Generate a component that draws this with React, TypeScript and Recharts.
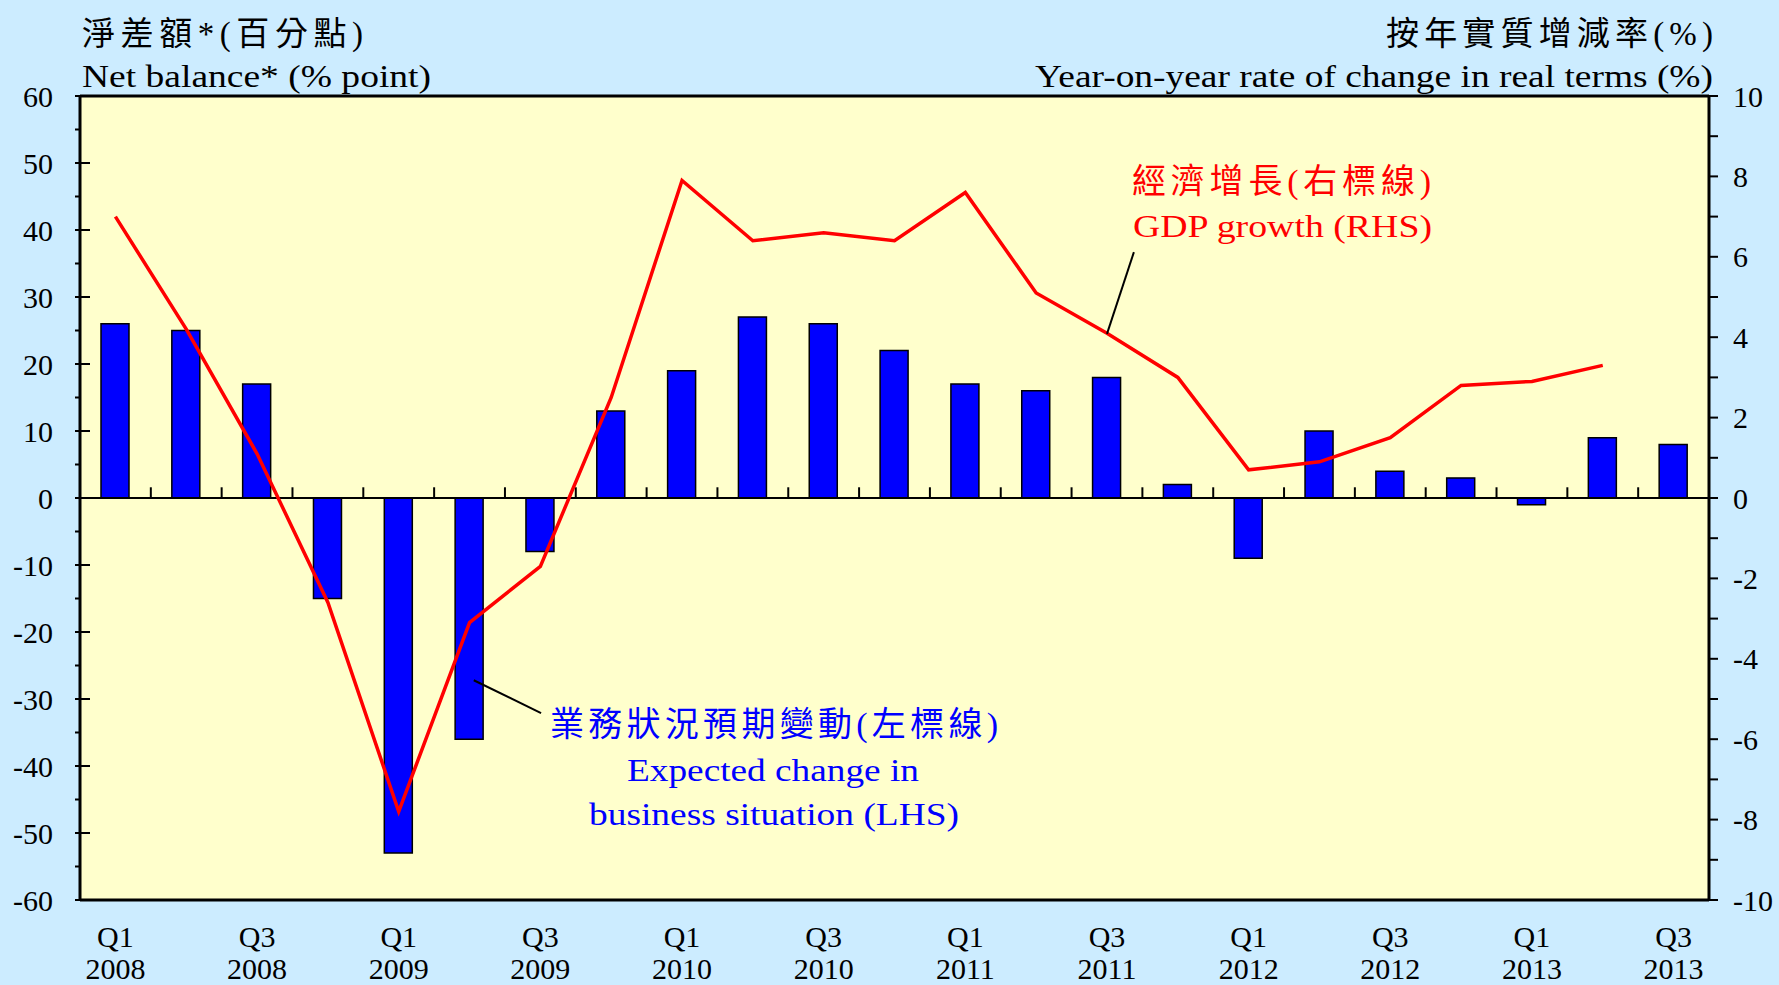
import React from 'react';
import {
  ComposedChart,
  Bar,
  Line,
  XAxis,
  YAxis,
  CartesianGrid,
  ReferenceLine,
} from 'recharts';

const periods = [
  'Q1 2008', 'Q2 2008', 'Q3 2008', 'Q4 2008',
  'Q1 2009', 'Q2 2009', 'Q3 2009', 'Q4 2009',
  'Q1 2010', 'Q2 2010', 'Q3 2010', 'Q4 2010',
  'Q1 2011', 'Q2 2011', 'Q3 2011', 'Q4 2011',
  'Q1 2012', 'Q2 2012', 'Q3 2012', 'Q4 2012',
  'Q1 2013', 'Q2 2013', 'Q3 2013',
];

// expected change in business situation, net balance (% point), LHS
const businessChange = [
  26, 25, 17, -15, -53, -36, -8, 13, 19, 27, 26, 22, 17, 16, 18, 2, -9, 10, 4, 3, -1, 9, 8,
];

// GDP growth, yoy % in real terms, RHS
const gdpGrowth = [
  7.0, 4.2, 1.1, -2.6, -7.8, -3.1, -1.7, 2.5, 7.9, 6.4, 6.6, 6.4, 7.6, 5.1, 4.1, 3.0, 0.7, 0.9, 1.5,
  2.8, 2.9, 3.3, null,
];

const leftTicks = [
  -60, -55, -50, -45, -40, -35, -30, -25, -20, -15, -10, -5, 0, 5, 10, 15, 20, 25, 30, 35, 40, 45,
  50, 55, 60,
];
const rightTicks = [-10, -9, -8, -7, -6, -5, -4, -3, -2, -1, 0, 1, 2, 3, 4, 5, 6, 7, 8, 9, 10];

// leader lines for the two annotations (numeric x position, LHS units)
const gdpLeader = [
  { x: 14.88, y: 36.7 },
  { x: 14.5, y: 24.5 },
];
const businessLeader = [
  { x: 5.56, y: -27.2 },
  { x: 6.51, y: -32.1 },
];

const data = periods.map((p, i) => ({
  period: p,
  idx: i + 0.5,
  business: businessChange[i],
  gdp: gdpGrowth[i],
}));

const FONT = "'Liberation Serif', 'Times New Roman', 'Noto Sans CJK TC', serif";

const LeftTick = (props: any) => {
  const { x, y, payload } = props;
  const v = payload.value;
  if (v % 10 !== 0) return <g />;
  const axisX = x + 5 + 22;
  return (
    <g>
      <text x={x} y={y} dy="0.35em" textAnchor="end" fontSize={30} fontFamily={FONT} fill="#000">
        {v}
      </text>
      <line x1={axisX} x2={axisX + 10} y1={y} y2={y} stroke="#000" strokeWidth={2} />
    </g>
  );
};

const RightTick = (props: any) => {
  const { x, y, payload } = props;
  const v = payload.value;
  if (v % 2 !== 0) return <g />;
  return (
    <text x={x} y={y} dy="0.35em" textAnchor="start" fontSize={30} fontFamily={FONT} fill="#000">
      {v}
    </text>
  );
};

const XTick = (props: any) => {
  const { x, y, payload } = props;
  const i = periods.indexOf(payload.value);
  if (i % 2 !== 0) return <g />;
  const [q, yr] = String(payload.value).split(' ');
  return (
    <g>
      <text x={x} y={y + 47} textAnchor="middle" fontSize={30} fontFamily={FONT} fill="#000">
        {q}
      </text>
      <text x={x} y={y + 79} textAnchor="middle" fontSize={30} fontFamily={FONT} fill="#000">
        {yr}
      </text>
    </g>
  );
};

const App = () => {
  return (
    <div
      style={{
        position: 'absolute',
        left: 0,
        top: 0,
        width: 1779,
        height: 985,
        background: '#CCECFF',
      }}
    >
      <ComposedChart
        width={1779}
        height={985}
        data={data}
        margin={{ top: 95, right: 10, bottom: 0, left: 20 }}
      >
        <CartesianGrid
          xAxisId="cat"
          yAxisId="left"
          fill="#FFFFCC"
          horizontal={false}
          vertical={false}
        />
        <XAxis
          xAxisId="cat"
          dataKey="period"
          height={85}
          interval={0}
          tickLine={false}
          tickSize={0}
          tickMargin={0}
          axisLine={{ stroke: '#000', strokeWidth: 3 }}
          tick={<XTick />}
        />
        <XAxis
          xAxisId="top"
          orientation="top"
          dataKey="period"
          height={1}
          tick={false}
          tickLine={false}
          axisLine={{ stroke: '#000', strokeWidth: 3 }}
        />
        <XAxis
          xAxisId="num"
          dataKey="idx"
          type="number"
          domain={[0, 23]}
          allowDataOverflow
          hide
        />
        <YAxis
          yAxisId="left"
          width={60}
          domain={[-60, 60]}
          ticks={leftTicks}
          interval={0}
          allowDataOverflow
          tickSize={5}
          tickMargin={22}
          tickLine={{ stroke: '#000', strokeWidth: 2 }}
          axisLine={{ stroke: '#000', strokeWidth: 3 }}
          tick={<LeftTick />}
        />
        <YAxis
          yAxisId="right"
          orientation="right"
          width={60}
          domain={[-10, 10]}
          ticks={rightTicks}
          interval={0}
          allowDataOverflow
          tickSize={9}
          tickMargin={15}
          tickLine={{ stroke: '#000', strokeWidth: 2 }}
          axisLine={{ stroke: '#000', strokeWidth: 3 }}
          tick={<RightTick />}
        />
        <Bar
          xAxisId="cat"
          yAxisId="left"
          dataKey="business"
          fill="#0000FF"
          stroke="#000"
          strokeWidth={1.5}
          barSize={28}
          isAnimationActive={false}
        />
        <ReferenceLine xAxisId="num" yAxisId="left" y={0} stroke="#000" strokeWidth={2} />
        {periods.slice(1).map((_, i) => (
          <ReferenceLine
            key={'sep' + i}
            xAxisId="num"
            yAxisId="left"
            segment={[
              { x: i + 1, y: 0 },
              { x: i + 1, y: 1.6 },
            ]}
            stroke="#000"
            strokeWidth={2}
          />
        ))}
        <Line
          xAxisId="cat"
          yAxisId="right"
          dataKey="gdp"
          type="linear"
          stroke="#FF0000"
          strokeWidth={3.5}
          dot={false}
          activeDot={false}
          isAnimationActive={false}
        />
        <ReferenceLine
          xAxisId="num"
          yAxisId="left"
          segment={gdpLeader}
          stroke="#000"
          strokeWidth={2}
        />
        <ReferenceLine
          xAxisId="num"
          yAxisId="left"
          segment={businessLeader}
          stroke="#000"
          strokeWidth={2}
        />
      </ComposedChart>
      <svg
        width={1779}
        height={985}
        style={{ position: 'absolute', left: 0, top: 0, pointerEvents: 'none' }}
        fontFamily={FONT}
      >
        <text x={82} y={45} fontSize={33} fill="#000" textLength={281} lengthAdjust="spacing">
          淨差額*(百分點)
        </text>
        <text x={82} y={87} fontSize={31} fill="#000" textLength={349} lengthAdjust="spacingAndGlyphs">
          Net balance* (% point)
        </text>
        <text x={1386} y={45} fontSize={33} fill="#000" textLength={327} lengthAdjust="spacing">
          按年實質增減率(%)
        </text>
        <text x={1035} y={87} fontSize={31} fill="#000" textLength={678} lengthAdjust="spacingAndGlyphs">
          Year-on-year rate of change in real terms (%)
        </text>
        <text x={1132} y={193} fontSize={34} fill="#FF0000" textLength={299} lengthAdjust="spacing">
          經濟增長(右標線)
        </text>
        <text x={1133} y={237} fontSize={32} fill="#FF0000" textLength={299} lengthAdjust="spacingAndGlyphs">
          GDP growth (RHS)
        </text>
        <text x={550} y={736} fontSize={34} fill="#0000FF" textLength={448} lengthAdjust="spacing">
          業務狀況預期變動(左標線)
        </text>
        <text x={627} y={781} fontSize={32} fill="#0000FF" textLength={292} lengthAdjust="spacingAndGlyphs">
          Expected change in
        </text>
        <text x={589} y={825} fontSize={32} fill="#0000FF" textLength={370} lengthAdjust="spacingAndGlyphs">
          business situation (LHS)
        </text>
      </svg>
    </div>
  );
};

export default App;
